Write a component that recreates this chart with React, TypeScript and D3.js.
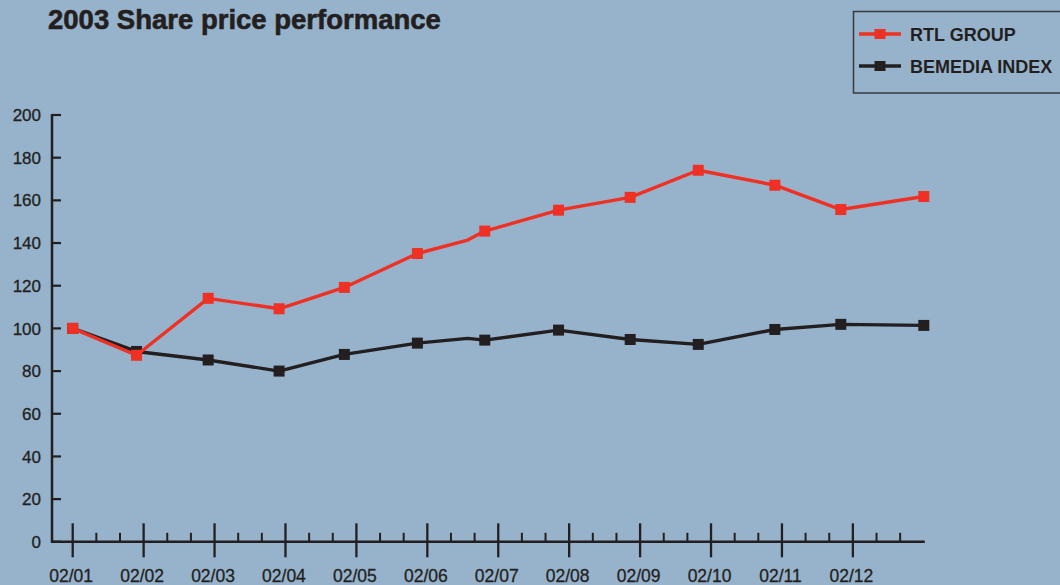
import React from "react";
import * as d3 from "d3";

const monthLabels = ["02/01", "02/02", "02/03", "02/04", "02/05", "02/06", "02/07", "02/08", "02/09", "02/10", "02/11", "02/12"];
const yTicks = [0, 20, 40, 60, 80, 100, 120, 140, 160, 180, 200];

// position of each observation, in months since 02/01
const obsMonth = [0, 0.9, 1.91, 2.91, 3.83, 4.86, 5.57, 5.81, 6.85, 7.86, 8.82, 9.9, 10.83, 12.0];
const hasMarker = [true, true, true, true, true, true, false, true, true, true, true, true, true, true];
const rtlGroup = [100, 87.4, 114.1, 109.2, 119.2, 135.1, 141.4, 145.6, 155.4, 161.4, 174.1, 167.1, 155.7, 161.8];
const bemediaIndex = [100, 89.2, 85.2, 80.0, 87.8, 93.1, 95.3, 94.5, 99.2, 94.8, 92.5, 99.5, 101.9, 101.4];

const seriesNames = ["RTL GROUP", "BEMEDIA INDEX"];
const seriesColors = ["#ee3124", "#231f20"];

const BG = "#97b3cc";
const DARK = "#231f20";
const FONT = "'Liberation Sans', Arial, Helvetica, sans-serif";

export default function App() {
  const W = 1060;
  const H = 585;
  const x = d3.scaleLinear().domain([0, 12]).range([72.7, 923.8]);
  const y = d3.scaleLinear().domain([0, 200]).range([541.8, 115]);
  const axisX0 = 52;

  const line = d3
    .line<number>()
    .x((_, i) => x(obsMonth[i]))
    .y((d) => y(d));

  const minorTicks: number[] = [];
  for (let m = 0; m < 12; m++) {
    minorTicks.push(m + 1 / 3, m + 2 / 3);
  }

  const series = [bemediaIndex, rtlGroup];
  const colors = [seriesColors[1], seriesColors[0]];
  const ms = 11;

  return (
    <svg
      width={W}
      height={H}
      style={{ position: "absolute", left: 0, top: 0, display: "block" }}
      fontFamily={FONT}
    >
      <rect x={0} y={0} width={W} height={H} fill={BG} />
      <text x={48} y={28.5} fontSize={27.5} fontWeight="bold" fill={DARK} stroke={DARK} strokeWidth={0.6}>
        2003 Share price performance
      </text>

      {/* legend */}
      <rect x={853.5} y={11.5} width={230} height={81.5} fill="none" stroke="#3a3a3c" strokeWidth={1.5} />
      {seriesNames.map((name, i) => {
        const ly = i === 0 ? 34 : 66;
        return (
          <g key={name}>
            <line x1={859} x2={901} y1={ly} y2={ly} stroke={seriesColors[i]} strokeWidth={3.5} />
            <rect x={880 - 5.5} y={ly - 5} width={11} height={10} fill={seriesColors[i]} />
            <text x={910} y={ly + 7} fontSize={18} fontWeight="bold" fill={DARK}>
              {name}
            </text>
          </g>
        );
      })}

      {/* y axis */}
      <line x1={axisX0} x2={axisX0} y1={y(200) - 1} y2={y(0) + 1.2} stroke={DARK} strokeWidth={2.5} />
      {yTicks.map((t) => (
        <g key={t}>
          <line x1={axisX0} x2={61} y1={y(t)} y2={y(t)} stroke={DARK} strokeWidth={2.2} />
          <text x={41} y={y(t)} dy="0.36em" textAnchor="end" fontSize={17} fill={DARK} stroke={DARK} strokeWidth={0.3}>
            {t}
          </text>
        </g>
      ))}

      {/* x axis */}
      <line x1={axisX0 - 1} x2={x(12) + 1} y1={y(0)} y2={y(0)} stroke={DARK} strokeWidth={2.5} />
      {minorTicks.map((m, i) => (
        <line key={"mn" + i} x1={x(m)} x2={x(m)} y1={y(0) - 9} y2={y(0)} stroke={DARK} strokeWidth={2} />
      ))}
      {monthLabels.map((lab, i) => (
        <g key={lab}>
          <line x1={x(i)} x2={x(i)} y1={y(0) - 18.5} y2={y(0) + 15.5} stroke={DARK} strokeWidth={2.3} />
          <text x={x(i) - 1.5} y={582} textAnchor="middle" fontSize={17.5} fill={DARK} stroke={DARK} strokeWidth={0.3}>
            {lab}
          </text>
        </g>
      ))}

      {/* series */}
      {series.map((vals, si) => (
        <g key={si}>
          <path d={line(vals) || ""} fill="none" stroke={colors[si]} strokeWidth={3.4} strokeLinejoin="round" />
          {vals.map((v, i) =>
            hasMarker[i] ? (
              <rect
                key={i}
                x={x(obsMonth[i]) - ms / 2}
                y={y(v) - ms / 2}
                width={ms}
                height={ms}
                fill={colors[si]}
              />
            ) : null
          )}
        </g>
      ))}
    </svg>
  );
}
